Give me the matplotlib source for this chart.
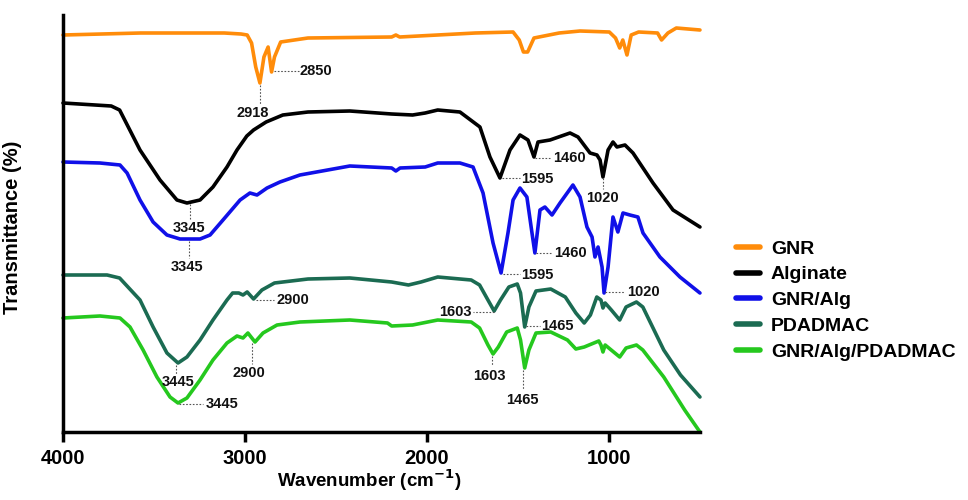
import matplotlib
matplotlib.use('Agg')
import matplotlib.pyplot as plt

plt.rcParams['font.family'] = ['Liberation Sans', 'DejaVu Sans']

# wavenumber (cm-1) / transmittance (a.u., stacked)
gnr_w = [4000, 3574, 3114, 3022, 2988, 2964, 2941, 2918, 2896, 2873, 2854, 2838, 2804, 2654, 2194, 2171,
         2150, 1734, 1527, 1493, 1470, 1447, 1412, 1274, 1159, 998, 964, 941, 924, 901, 878, 837, 733, 711,
         676, 630, 500]
gnr_t = [397, 399, 399, 398, 397, 389, 365, 349, 375, 385, 360, 375, 390, 394, 395, 397,
         395, 399, 400, 392, 380, 380, 394, 399, 401, 400, 394, 384, 392, 377, 397, 400, 399, 392,
         399, 404, 402]

alg_w = [4000, 3735, 3689, 3577, 3467, 3374, 3319, 3247, 3176, 3099, 3044, 2990, 2953, 2884, 2792, 2654,
         2424, 2194, 2079, 2010, 1941, 1819, 1709, 1654, 1599, 1544, 1489, 1445, 1412, 1390, 1324, 1214,
         1170, 1104, 1066, 1049, 1033, 1005, 978, 956, 912, 868, 758, 648, 500]
alg_t = [329, 326, 322, 282, 252, 232, 229, 232, 245, 265, 282, 296, 302, 310, 317, 320,
         321, 318, 317, 319, 322, 320, 305, 275, 254, 282, 297, 292, 275, 290, 292, 299,
         295, 279, 277, 272, 255, 282, 290, 285, 287, 279, 249, 222, 205]

galg_w = [4000, 3797, 3687, 3648, 3577, 3505, 3429, 3357, 3247, 3192, 3121, 3027, 2973, 2934, 2879, 2808,
          2698, 2424, 2194, 2171, 2148, 2010, 1941, 1819, 1747, 1692, 1637, 1593, 1555, 1527, 1489, 1451,
          1423, 1407, 1379, 1352, 1313, 1269, 1198, 1159, 1121, 1093, 1077, 1060, 1038, 1027, 1005, 978,
          951, 923, 885, 841, 813, 720, 610, 500]
galg_t = [270, 269, 267, 259, 232, 210, 197, 193, 193, 197, 212, 232, 239, 237, 244, 250,
          257, 266, 264, 261, 264, 265, 269, 269, 265, 239, 189, 159, 199, 232, 244, 235,
          199, 179, 222, 225, 217, 229, 247, 235, 205, 195, 175, 185, 165, 139, 165, 215,
          200, 219, 217, 215, 199, 175, 155, 139]

pda_w = [4000, 3758, 3689, 3577, 3505, 3429, 3368, 3319, 3247, 3176, 3099, 3068, 3034, 3011, 2988, 2953,
         2907, 2838, 2654, 2424, 2194, 2102, 2033, 1941, 1757, 1711, 1665, 1631, 1596, 1550, 1504, 1486,
         1463, 1440, 1401, 1320, 1240, 1182, 1136, 1102, 1067, 1044, 1033, 1021, 987, 941, 906, 849, 814,
         699, 607, 500]
pda_t = [157, 157, 154, 132, 105, 79, 69, 75, 92, 112, 132, 139, 139, 137, 140, 133,
         142, 149, 153, 154, 150, 147, 150, 155, 152, 147, 132, 121, 132, 145, 148, 139,
         105, 125, 141, 143, 135, 119, 109, 117, 135, 132, 124, 129, 122, 112, 125, 130, 125,
         82, 57, 35]

mix_w = [4000, 3797, 3687, 3632, 3560, 3484, 3412, 3368, 3319, 3247, 3176, 3099, 3044, 3011, 2984, 2945,
         2901, 2824, 2698, 2424, 2217, 2194, 2079, 1941, 1757, 1711, 1665, 1637, 1608, 1562, 1504, 1486,
         1463, 1440, 1401, 1320, 1228, 1182, 1136, 1056, 1044, 1033, 1021, 941, 906, 849, 814, 699, 584,
         500]
mix_t = [114, 116, 114, 105, 82, 55, 35, 29, 34, 52, 72, 89, 96, 94, 99, 90,
         99, 107, 110, 112, 109, 106, 107, 112, 110, 104, 87, 78, 85, 100, 104, 92,
         64, 82, 99, 100, 92, 83, 85, 91, 87, 80, 87, 75, 84, 87, 82, 55, 22,
         0]

names = ['GNR', 'Alginate', 'GNR/Alg', 'PDADMAC', 'GNR/Alg/PDADMAC']
colors = ['#FF8C0A', '#000000', '#1010E8', '#1B6B52', '#25C81E']
series = [(gnr_w, gnr_t), (alg_w, alg_t), (galg_w, galg_t), (pda_w, pda_t), (mix_w, mix_t)]

# peak labels: text, dotted line (w0, t0, w1, t1), text position, alignment
peaks = [
    ('2918', (2918, 347, 2918, 328), (2960, 319), 'center'),
    ('2850', (2838, 361, 2705, 361), (2700, 361), 'left'),
    ('3345', (3300, 228, 3300, 213), (3305, 204), 'center'),
    ('1595', (1590, 254, 1490, 254), (1481, 253), 'left'),
    ('1460', (1405, 274, 1320, 274), (1308, 274), 'left'),
    ('1020', (1033, 254, 1033, 243), (1037, 234), 'center'),
    ('3345', (3309, 191, 3309, 174), (3316, 165), 'center'),
    ('1595', (1580, 158, 1490, 158), (1481, 157), 'left'),
    ('1460', (1400, 179, 1312, 179), (1302, 179), 'left'),
    ('1020', (1020, 140, 910, 140), (901, 140), 'left'),
    ('2900', (2942, 132, 2838, 132), (2826, 132), 'left'),
    ('3445', (3380, 67, 3380, 58), (3367, 50), 'center'),
    ('1603', (1631, 120, 1746, 120), (1757, 120), 'right'),
    ('1465', (1458, 106, 1378, 106), (1371, 106), 'left'),
    ('3445', (3362, 28, 3229, 28), (3217, 28), 'left'),
    ('2900', (2960, 89, 2960, 68), (2976, 59), 'center'),
    ('1603', (1645, 76, 1645, 66), (1658, 56), 'center'),
    ('1465', (1470, 62, 1470, 42), (1476, 32), 'center'),
]

fig = plt.figure(figsize=(9.68, 5), dpi=100)
ax = fig.add_axes([0.0651, 0.136, 0.658, 0.834])

for (w, t), c, n in zip(series, colors, names):
    ax.plot(w, t, color=c, lw=2.6, label=n, solid_joinstyle='round', solid_capstyle='round', clip_on=False)

for txt, (a, b, c2, d), (tx, ty), ha in peaks:
    ax.plot([a, c2], [b, d], color='#555555', lw=0.8, ls=(0, (1.5, 1.5)))
    ax.text(tx, ty, txt, ha=ha, va='center', fontsize=10.5, fontweight='bold', color='#111111')

ax.set_xlim(4000, 500)
ax.set_ylim(0, 417)
ax.set_xticks([4000, 3000, 2000, 1000])
ax.set_yticks([])
for s in ['top', 'right']:
    ax.spines[s].set_visible(False)
for s in ['left', 'bottom']:
    ax.spines[s].set_linewidth(2.5)
ax.tick_params(axis='x', direction='out', length=7, width=2.5, labelsize=14.5, pad=5)
for lb in ax.get_xticklabels():
    lb.set_fontweight('bold')
ax.set_xlabel('Wavenumber (cm$^{\\mathbf{-1}}$)', fontsize=13.5, fontweight='bold')
ax.xaxis.set_label_coords(0.48, -0.085)
ax.set_ylabel('Transmittance (%)', fontsize=14.5, fontweight='bold')
ax.yaxis.set_label_coords(-0.064, 0.49)

lgd = fig.legend(loc='upper left', bbox_to_anchor=(0.742, 0.555), frameon=False,
                 handlelength=1.25, handletextpad=0.55, labelspacing=0.42,
                 prop={'weight': 'bold', 'size': 14})
for h in lgd.get_lines():
    h.set_linewidth(4)

plt.savefig('out.png', dpi=100)
